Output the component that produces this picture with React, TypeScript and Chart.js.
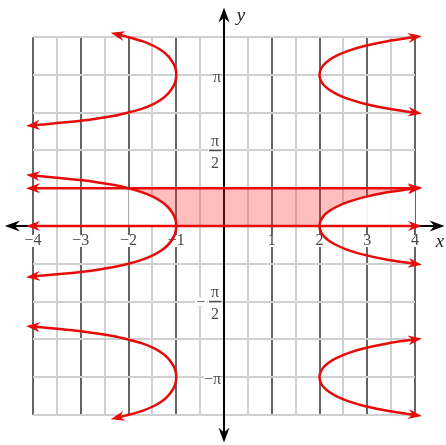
import React, { useEffect, useRef } from "react";
import { Chart, registerables } from "chart.js";

Chart.register(...registerables);

const PI = Math.PI;

// Axis ranges (data units)
const xRange = [-4, 4];
const yRange = [-5 * PI / 4, 5 * PI / 4];
const xGridStep = 0.5;
const yGridSteps = [-5, -4, -3, -2, -1, 0, 1, 2, 3, 4, 5]; // multiples of π/4
const axisExtentX = [-4.59, 4.62];
const axisExtentY = [-4.5, 4.54];

// Tick labels
const xTickValues = [-4, -3, -2, -1, 1, 2, 3, 4];
const xTickLabels = ["\u22124", "\u22123", "\u22122", "\u22121", "1", "2", "3", "4"];
const yTickValues = [PI, PI / 2, -PI / 2, -PI];
const yTickLabels = ["\u03c0", "\u03c0/2", "\u2212\u03c0/2", "\u2212\u03c0"];

// Left curve around y = 0
const leftZeroX = [-4.0, -2.96, -2.3, -2.0, -1.71, -1.47, -1.3, -1.18, -1.1, -1.04, -1.01, -1.0, -1.01, -1.04, -1.1, -1.18, -1.3, -1.47, -1.71, -2.0, -2.3, -2.96, -4.0];
const leftZeroY = [1.05, 0.95, 0.85, 0.785, 0.7, 0.6, 0.5, 0.4, 0.3, 0.2, 0.1, 0, -0.1, -0.2, -0.3, -0.4, -0.5, -0.6, -0.7, -0.785, -0.85, -0.95, -1.05];

// Left curve around y = π
const leftPiX = [-2.23, -2.06, -1.71, -1.47, -1.3, -1.18, -1.1, -1.04, -1.01, -1.0, -1.01, -1.04, -1.1, -1.18, -1.3, -1.47, -1.71, -2.0, -2.3, -2.96, -4.0];
const leftPiY = [3.98, 3.94, 3.84, 3.74, 3.64, 3.54, 3.44, 3.34, 3.24, 3.14, 3.04, 2.94, 2.84, 2.74, 2.64, 2.54, 2.44, 2.36, 2.29, 2.19, 2.09];

// Left curve around y = −π
const leftNegPiX = [-4.0, -2.96, -2.3, -2.0, -1.71, -1.47, -1.3, -1.18, -1.1, -1.04, -1.01, -1.0, -1.01, -1.04, -1.1, -1.18, -1.3, -1.47, -1.71, -2.06, -2.23];
const leftNegPiY = [-2.09, -2.19, -2.29, -2.36, -2.44, -2.54, -2.64, -2.74, -2.84, -2.94, -3.04, -3.14, -3.24, -3.34, -3.44, -3.54, -3.64, -3.74, -3.84, -3.94, -3.98];

// Right curve around y = 0
const rightZeroX = [4.0, 3.42, 2.94, 2.6, 2.36, 2.19, 2.08, 2.02, 2.0, 2.02, 2.08, 2.19, 2.36, 2.6, 2.94, 3.42, 4.0];
const rightZeroY = [0.785, 0.7, 0.6, 0.5, 0.4, 0.3, 0.2, 0.1, 0, -0.1, -0.2, -0.3, -0.4, -0.5, -0.6, -0.7, -0.785];

// Right curve around y = π
const rightPiX = [4.0, 3.42, 2.94, 2.6, 2.36, 2.19, 2.08, 2.02, 2.0, 2.02, 2.08, 2.19, 2.36, 2.6, 2.94, 3.42, 4.0];
const rightPiY = [3.927, 3.84, 3.74, 3.64, 3.54, 3.44, 3.34, 3.24, 3.14, 3.04, 2.94, 2.84, 2.74, 2.64, 2.54, 2.44, 2.356];

// Right curve around y = −π
const rightNegPiX = [4.0, 3.42, 2.94, 2.6, 2.36, 2.19, 2.08, 2.02, 2.0, 2.02, 2.08, 2.19, 2.36, 2.6, 2.94, 3.42, 4.0];
const rightNegPiY = [-2.356, -2.44, -2.54, -2.64, -2.74, -2.84, -2.94, -3.04, -3.14, -3.24, -3.34, -3.44, -3.54, -3.64, -3.74, -3.84, -3.927];

// Horizontal boundary lines
const hLineY = [0, 0.785];
const hLineX = [-4, 4];

const RED = "#e60a0a";
const PINK = "rgba(255, 40, 40, 0.3)";
const TEXT = "#4a4a4a";
const SERIF = "'Liberation Serif', 'DejaVu Serif', serif";

function pts(xs: number[], ys: number[]) {
  return xs.map((x, i) => ({ x, y: ys[i] }));
}

function drawStealth(ctx: CanvasRenderingContext2D, tx: number, ty: number, ux: number, uy: number, len: number, hw: number, color: string) {
  const bx = tx - ux * len;
  const by = ty - uy * len;
  const nx = -uy;
  const ny = ux;
  const mx = tx - ux * len * 0.68;
  const my = ty - uy * len * 0.68;
  ctx.save();
  ctx.fillStyle = color;
  ctx.beginPath();
  ctx.moveTo(tx, ty);
  ctx.lineTo(bx + nx * hw, by + ny * hw);
  ctx.lineTo(mx, my);
  ctx.lineTo(bx - nx * hw, by - ny * hw);
  ctx.closePath();
  ctx.fill();
  ctx.restore();
}

const axesPlugin = {
  id: "axesPlugin",
  beforeDatasetsDraw(chart: any) {
    const { ctx, scales } = chart;
    const xs = scales.x;
    const ys = scales.y;
    const y0 = ys.getPixelForValue(0);
    const x0 = xs.getPixelForValue(0);
    const xl = xs.getPixelForValue(axisExtentX[0]);
    const xr = xs.getPixelForValue(axisExtentX[1]);
    const yt = ys.getPixelForValue(axisExtentY[1]);
    const yb = ys.getPixelForValue(axisExtentY[0]);

    // tick labels (under the curves)
    ctx.save();
    ctx.textAlign = "center";
    ctx.textBaseline = "middle";
    ctx.font = `16px ${SERIF}`;
    xTickValues.forEach((v, i) => {
      const px = xs.getPixelForValue(v);
      const w = ctx.measureText(xTickLabels[i]).width;
      ctx.fillStyle = "#fff";
      ctx.fillRect(px - w / 2, y0 + 9, w, 12);
      ctx.fillStyle = TEXT;
      ctx.fillText(xTickLabels[i], px, y0 + 15);
    });
    yTickValues.forEach((v, i) => {
      const py = ys.getPixelForValue(v);
      const label = yTickLabels[i];
      const cx = x0 - 9;
      if (label.includes("/")) {
        const neg = label.startsWith("\u2212");
        const [num, den] = label.replace("\u2212", "").split("/");
        ctx.fillStyle = "#fff";
        ctx.fillRect(cx - 7, py - 18, 14, 36);
        if (neg) ctx.fillRect(cx - 20, py - 4, 12, 8);
        ctx.fillStyle = TEXT;
        ctx.fillText(num, cx, py - 9);
        ctx.fillText(den, cx, py + 13);
        ctx.fillRect(cx - 6, py - 0.8, 12.5, 1.6);
        if (neg) ctx.fillText("\u2212", cx - 14, py + 1);
      } else {
        ctx.textAlign = "right";
        const w = ctx.measureText(label).width;
        ctx.fillStyle = "#fff";
        ctx.fillRect(x0 - 3 - w, py - 3, w, 11);
        ctx.fillStyle = TEXT;
        ctx.fillText(label, x0 - 3, py + 3);
        ctx.textAlign = "center";
      }
    });
    ctx.restore();

    // axes
    ctx.save();
    ctx.strokeStyle = "#000";
    ctx.lineWidth = 2;
    ctx.beginPath();
    ctx.moveTo(xl + 8, y0);
    ctx.lineTo(xr - 8, y0);
    ctx.moveTo(x0, yt + 8);
    ctx.lineTo(x0, yb - 8);
    ctx.stroke();
    ctx.restore();
    drawStealth(ctx, xl, y0, -1, 0, 15, 5.5, "#000");
    drawStealth(ctx, xr, y0, 1, 0, 15, 5.5, "#000");
    drawStealth(ctx, x0, yt, 0, -1, 15, 5.5, "#000");
    drawStealth(ctx, x0, yb, 0, 1, 15, 5.5, "#000");

    // axis names
    ctx.save();
    ctx.textAlign = "center";
    ctx.textBaseline = "middle";
    ctx.fillStyle = "#222";
    ctx.font = `italic 19px ${SERIF}`;
    ctx.fillText("x", xs.getPixelForValue(4) + 25, y0 + 16);
    ctx.fillText("y", x0 + 17, yt + 9);
    ctx.restore();
  },
  afterDatasetsDraw(chart: any) {
    const { ctx } = chart;
    chart.data.datasets.forEach((ds: any, i: number) => {
      if (!ds.arrowEnds) return;
      const meta = chart.getDatasetMeta(i);
      const p = meta.data;
      const n = p.length;
      if (n < 2) return;
      const ends = [
        [p[0], p[1]],
        [p[n - 1], p[n - 2]],
      ];
      ends.forEach(([a, b]: any) => {
        let dx = a.x - b.x;
        let dy = a.y - b.y;
        const l = Math.hypot(dx, dy) || 1;
        dx /= l;
        dy /= l;
        drawStealth(ctx, a.x + dx * 7, a.y + dy * 7, dx, dy, 14, 5, RED);
      });
    });
  },
};

export default function App() {
  const ref = useRef<HTMLCanvasElement | null>(null);

  useEffect(() => {
    if (!ref.current) return;

    const leftZero = pts(leftZeroX, leftZeroY);
    const rightZero = pts(rightZeroX, rightZeroY);
    const leftUpper = leftZero.filter((p) => p.y >= 0 && p.y <= hLineY[1] + 1e-9);
    const rightUpper = rightZero.filter((p) => p.y >= 0 && p.y <= hLineY[1] + 1e-9);
    const rightUpAsc = [...rightUpper].reverse();

    const shadeRegion = [...rightUpAsc, ...leftUpper];
    const whiteLeft = [
      { x: hLineX[0] + 2, y: hLineY[1] },
      ...leftUpper,
      { x: hLineX[0] + 2, y: hLineY[0] },
    ];
    const whiteRight = [...rightUpAsc, { x: hLineX[1], y: hLineY[0] }];

    const curve = (data: any[]) => ({
      data,
      showLine: true,
      borderColor: RED,
      borderWidth: 2.5,
      pointRadius: 0,
      pointHoverRadius: 0,
      tension: 0.3,
      fill: false,
      clip: false,
      arrowEnds: true,
      order: 1,
    });

    const region = (data: any[], color: string, order: number) => ({
      data,
      showLine: true,
      borderWidth: 0,
      borderColor: "rgba(0,0,0,0)",
      backgroundColor: color,
      pointRadius: 0,
      tension: 0.3,
      fill: "shape",
      order,
    });

    const chart = new Chart(ref.current, {
      type: "scatter",
      data: {
        datasets: [
          curve(leftZero),
          curve(pts(leftPiX, leftPiY)),
          curve(pts(leftNegPiX, leftNegPiY)),
          curve(rightZero),
          curve(pts(rightPiX, rightPiY)),
          curve(pts(rightNegPiX, rightNegPiY)),
          curve(hLineX.map((x) => ({ x, y: hLineY[0] }))),
          curve(hLineX.map((x) => ({ x, y: hLineY[1] }))),
          region(shadeRegion, PINK, 4),
          region(whiteLeft, "rgba(255,255,255,0.95)", 5),
          region(whiteRight, "rgba(255,255,255,0.95)", 5),
        ] as any,
      },
      options: {
        animation: false,
        responsive: false,
        events: [],
        layout: { padding: { left: 33, right: 31, top: 37, bottom: 30 } },
        plugins: {
          legend: { display: false },
          tooltip: { enabled: false },
        },
        scales: {
          x: {
            type: "linear",
            min: xRange[0],
            max: xRange[1],
            ticks: { display: false, stepSize: xGridStep },
            border: { display: false },
            grid: {
              drawTicks: false,
              lineWidth: 2,
              color: (c: any) => (Number.isInteger(c.tick?.value) ? "#666" : "#d0d0d0"),
            },
          },
          y: {
            type: "linear",
            min: yRange[0],
            max: yRange[1],
            afterBuildTicks: (scale: any) => {
              scale.ticks = yGridSteps.map((k) => ({ value: (k * PI) / 4 }));
            },
            ticks: { display: false },
            border: { display: false },
            grid: { drawTicks: false, lineWidth: 2, color: "#d0d0d0" },
          },
        },
      } as any,
      plugins: [axesPlugin],
    });
    return () => chart.destroy();
  }, []);

  return (
    <div style={{ position: "absolute", left: 0, top: 0, width: 446, height: 445, background: "#fff" }}>
      <canvas ref={ref} width={446} height={445} style={{ display: "block", width: 446, height: 445 }} />
    </div>
  );
}
